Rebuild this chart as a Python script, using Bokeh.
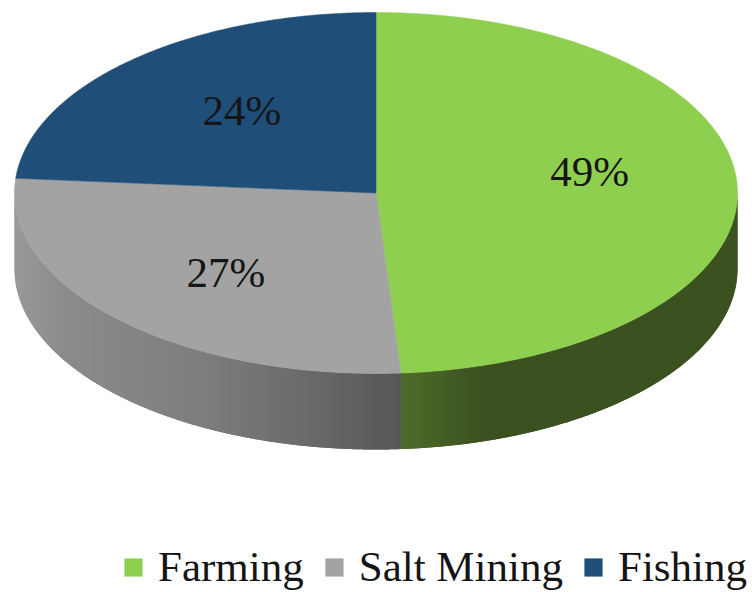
import numpy as np
from bokeh.plotting import figure
from bokeh.models import Range1d, Legend, LegendItem
from bokeh.embed import file_html
from bokeh.resources import INLINE
from bokeh.core.properties import value

categories = ["Farming", "Salt Mining", "Fishing"]
shares = [48.9, 27.4, 23.7]
pct_labels = ["49%", "27%", "24%"]
top_colors = ["#8fcf50", "#a3a3a3", "#1f4e79"]

# geometry of the tilted disc, in picture pixels
CX, CY, RX, RY, DEPTH = 375.5, 192.5, 361.5, 180.5, 76
LABEL_R = 0.58
LABEL_OFF_X = [4, -1, 8]
LABEL_OFF_Y = [-18, 5.5, -6]
TEXT_COLOR = "#151515"
FONT = "Liberation Serif"
BAND = 4  # width of one shading band of the wall

# side shading: colour stops along x
side_stops = {
    0: ([402, 440, 480, 737], [(80, 108, 43), (70, 96, 37), (60, 82, 32), (59, 81, 31)]),
    1: ([14, 60, 200, 320, 402], [(154, 154, 154), (140, 140, 140), (126, 126, 126), (104, 104, 104), (86, 86, 86)]),
}

p = figure(width=752, height=592, output_backend="svg", toolbar_location=None,
           x_range=Range1d(0, 752), y_range=Range1d(592, 0),
           min_border=0, outline_line_color=None, background_fill_color="white")
p.axis.visible = False
p.grid.visible = False


def px(t):
    return CX + RX * np.sin(t)


def py(t):
    return CY - RY * np.cos(t)


edges = np.radians(np.cumsum([0] + shares) * 3.6)

# visible wall of the disc, as shaded bands that overlap to hide seams
for i, stops in side_stops.items():
    lo, hi = max(edges[i], np.pi / 2), min(edges[i + 1], 3 * np.pi / 2)
    x_lo, x_hi = sorted([px(lo), px(hi)])
    x_cuts = np.arange(x_lo, x_hi + BAND, BAND).clip(x_lo, x_hi)
    cuts = np.pi - np.arcsin((x_cuts - CX) / RX)
    cuts = np.clip(cuts, lo, hi)
    cuts = np.sort(cuts)[::-1] if i == 0 else np.sort(cuts)
    xs, ys, cols = [], [], []
    for k in range(len(cuts) - 1):
        s, e = cuts[k], cuts[min(k + 2, len(cuts) - 1)]
        arc = np.linspace(s, e, 6)
        xs.append(list(px(arc)) + list(px(arc[::-1])))
        ys.append(list(py(arc)) + list(py(arc[::-1]) + DEPTH))
        xm = px((cuts[k] + cuts[k + 1]) / 2)
        rgb = [int(np.interp(xm, stops[0], [c[n] for c in stops[1]])) for n in range(3)]
        cols.append("#%02x%02x%02x" % tuple(rgb))
    p.patches(xs, ys, fill_color=cols, line_color=None)

# top face
items = []
for i, (cat, col) in enumerate(zip(categories, top_colors)):
    arc = np.linspace(edges[i], edges[i + 1], 240)
    r = p.patch([CX] + list(px(arc)), [CY] + list(py(arc)),
                fill_color=col, line_color=col, line_width=0.5)
    items.append(LegendItem(label=value(cat), renderers=[r]))

# percentage labels
mids = (edges[:-1] + edges[1:]) / 2
lx = CX + LABEL_R * RX * np.sin(mids) + np.array(LABEL_OFF_X)
ly = CY - LABEL_R * RY * np.cos(mids) + np.array(LABEL_OFF_Y)
p.text(lx, ly, text=pct_labels, text_align="center", text_baseline="middle",
       text_font=value(FONT), text_font_size="43px", text_color=TEXT_COLOR)

legend = Legend(items=items, orientation="horizontal", location=(122, 1),
                glyph_width=22, glyph_height=22, label_standoff=14, spacing=19,
                padding=0, margin=0, border_line_color=None,
                background_fill_alpha=0,
                label_text_font=FONT, label_text_font_size="43px",
                label_text_color=TEXT_COLOR)
p.add_layout(legend, "center")

open("out.html", "w").write(file_html(p, INLINE))
